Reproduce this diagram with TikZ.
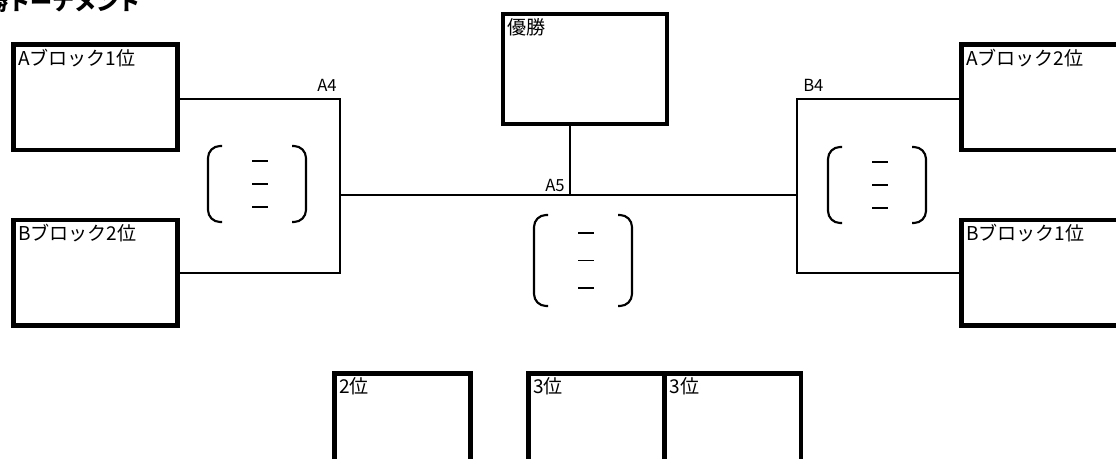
\documentclass[tikz,border=0pt]{standalone}
\usepackage{fontspec}
\setmainfont{Noto Sans CJK JP}
\usetikzlibrary{calc}

\tikzset{
	box/.style = {draw, line width = 3.5pt, outer sep = 0pt, inner sep = 0pt, minimum width = 123pt, minimum height = 79pt},
	small box/.style = {box, minimum width = 102pt},
	box text/.style = {anchor = north west, inner sep = 3.2pt, font = \fontsize{14.3}{16}\selectfont},
	link/.style = {line width = 1.5pt},
	tag/.style = {inner sep = 0pt, font = \fontsize{12.5}{14}\selectfont},
	paren/.style = {line width = 1.6pt, rounded corners = 9pt},
	bar/.style = {line width = 1.1pt}
}

\begin{document}
\begin{tikzpicture}[x = 0.75pt, y = -0.75pt]

	\useasboundingbox (0, 0) rectangle (1116, 459);
	\clip (0, 0) rectangle (1116, 459);

	% Title

	\node [anchor = base east, inner sep = 0pt, font = \fontsize{16.5}{19}\selectfont\bfseries] (title) at (141, 11) {決勝トーナメント};

	% Blocks

	\node [box, label = {[box text]north west:Aブロック1位}] (a1) at (95.5, 97.3) {};
	\node [box, label = {[box text]north west:Bブロック2位}] (b2) at (95.5, 272.7) {};
	\node [box, label = {[box text]north west:Aブロック2位}] (a2) at (1043.5, 97.3) {};
	\node [box, label = {[box text]north west:Bブロック1位}] (b1) at (1043.5, 272.7) {};
	\node [box, minimum height = 82.5pt, label = {[box text]north west:優勝}] (win) at (585, 69) {};

	% Places

	\node [small box, label = {[box text]north west:2位}] (second) at (402.5, 426) {};
	\node [small box, label = {[box text]north west:3位}] (third1) at (596.5, 426) {};
	\node [small box, label = {[box text]north west:3位}] (third2) at (733, 426) {};

	% Joints + lines

	\coordinate (a4) at (340, 99);
	\coordinate (b4) at (797, 99);
	\coordinate (a5) at (570, 195);

	\draw [link] (a1.east |- a4) -- (a4) -- (a4 |- b2.east) -- (b2.east);
	\draw [link] (a2.west |- b4) -- (b4) -- (b4 |- b1.west) -- (b1.west);
	\draw [link] (a4 |- a5) -- (b4 |- a5);
	\draw [link] (win.south -| a5) -- (a5);

	\node [tag, anchor = base east] (a4 tag) at ($(a4) + (-3, -7)$) {A4};
	\node [tag, anchor = base west] (b4 tag) at ($(b4) + (6, -7)$) {B4};
	\node [tag, anchor = base east] (a5 tag) at ($(a5) + (-5, -3.5)$) {A5};

	% Score brackets

	\foreach \cx/\cy/\h in {257/184/38, 877/185/38, 583/260.5/45.5} {
		\draw [paren] (\cx - 35, \cy - \h) -- (\cx - 49, \cy - \h) -- (\cx - 49, \cy + \h) -- (\cx - 35, \cy + \h);
		\draw [paren] (\cx + 35, \cy - \h) -- (\cx + 49, \cy - \h) -- (\cx + 49, \cy + \h) -- (\cx + 35, \cy + \h);
		\foreach \d in {-0.6, 0, 0.6}
			\draw [bar] (\cx - 5, \cy + \d * \h) -- (\cx + 11, \cy + \d * \h);
	}

\end{tikzpicture}
\end{document}
